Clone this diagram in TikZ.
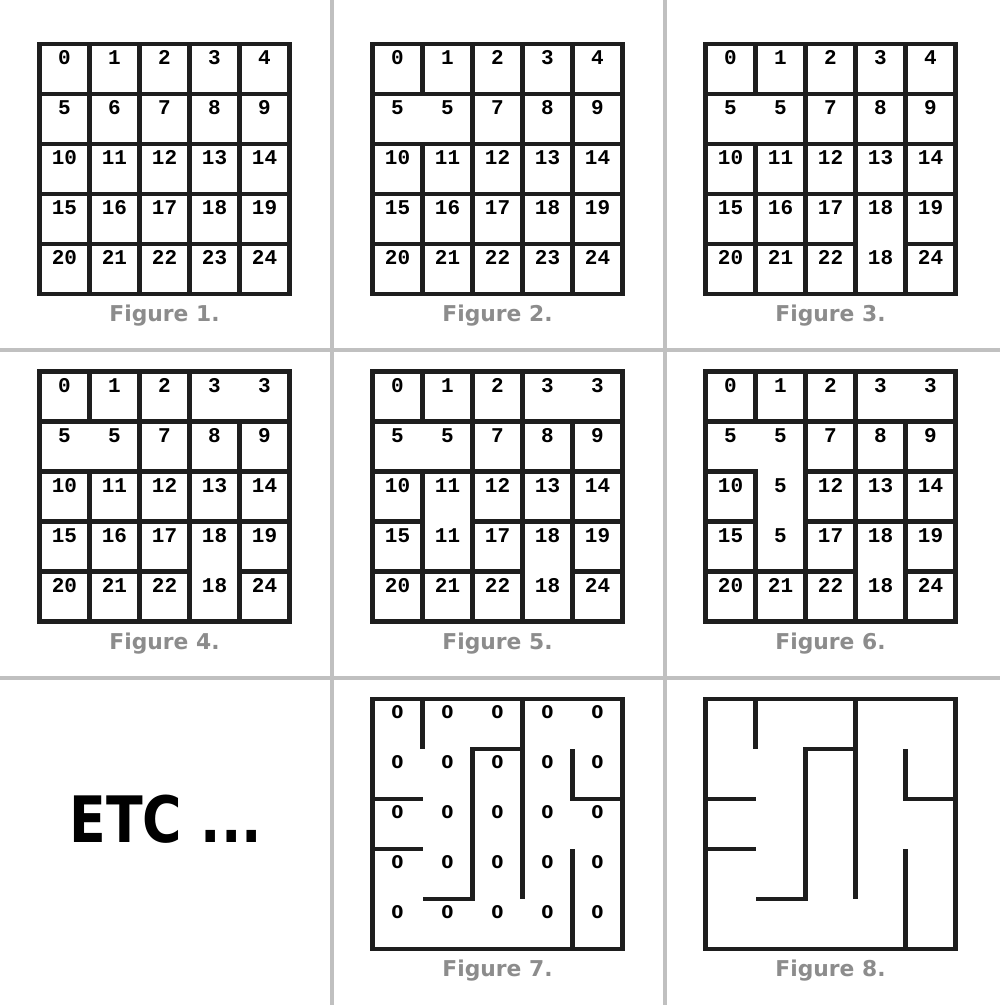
\documentclass[tikz,border=0pt]{standalone}
\usepackage{fontspec}
\usepackage{graphicx}
\newfontfamily\digitfont{Liberation Mono}
\newfontfamily\labelfont{DejaVu Sans}
\newfontfamily\zerofont{DejaVu Sans}
\definecolor{wallc}{RGB}{30,30,30}
\definecolor{sepc}{RGB}{192,192,192}
\definecolor{capc}{RGB}{140,140,140}
\newcommand\mgNums[2]{%
  \foreach \t [count=\i from 0] in {#2} {%
    \pgfmathtruncatemacro\rr{\i/5}%
    \pgfmathtruncatemacro\cc{\i-5*\rr}%
    \node[num] (#1-\i) at (\cc+0.5,\rr+0.42) {\t};}}
\newcommand\mgZeros[1]{%
  \foreach \i in {0,...,24} {%
    \pgfmathtruncatemacro\rr{\i/5}%
    \pgfmathtruncatemacro\cc{\i-5*\rr}%
    \node[zero] (#1-\i) at (\cc+0.5,\rr+0.38) {0};}}
\newcommand\mgWalls[1]{%
  \draw[wall] (0,0) rectangle (5,5);
  \foreach \a/\b/\c/\d in {#1} {\draw[wall] (\a,\b) -- (\c,\d);}}
\newcommand\mgMaze{%
  \draw[mazewall] (0,0) rectangle (5,5);
  \draw[mazewall] (1,0) -- (1,1);
  \draw[mazewall] (3,0) -- (3,4);
  \draw[mazewall] (3,1) -- (2,1) -- (2,4) -- (1,4);
  \draw[mazewall] (0,2) -- (1,2);
  \draw[mazewall] (0,3) -- (1,3);
  \draw[mazewall] (4,1) -- (4,2) -- (5,2);
  \draw[mazewall] (4,3) -- (4,5);}
\begin{document}
\begin{tikzpicture}[x=0.5pt,y=-0.5pt]
\tikzset{
  wall/.style={line width=2.1pt, draw=wallc, line cap=rect, line join=miter},
  mazewall/.style={line width=2.1pt, draw=wallc, line cap=butt, line join=miter},
  sep/.style={line width=2pt, draw=sepc},
  num/.style={anchor=base, inner sep=0pt, text=black, font=\digitfont\bfseries\fontsize{10.5pt}{10.5pt}\selectfont},
  zero/.style={anchor=base, inner sep=0pt, text=black, font=\zerofont\bfseries\fontsize{8.75pt}{8.75pt}\selectfont},
  figcap/.style={anchor=base, inner sep=0pt, text=capc, font=\labelfont\bfseries\fontsize{10.9pt}{10.9pt}\selectfont},
  etcstyle/.style={anchor=base west, inner sep=0pt, text=black, font=\labelfont\bfseries\fontsize{32pt}{32pt}\selectfont},
}
\fill[white] (0,0) rectangle (1000,1005);
\useasboundingbox (0,0) rectangle (1000,1005);
% separators
\draw[sep] (331.5,0) -- (331.5,1005);
\draw[sep] (664.5,0) -- (664.5,1005);
\draw[sep] (0,349.5) -- (1000,349.5);
\draw[sep] (0,677.5) -- (1000,677.5);
% Figure 1
\begin{scope}[shift={(39.5,44)}, x=25pt, y=-25pt]
  \mgWalls{1/0/1/5, 2/0/2/5, 3/0/3/5, 4/0/4/5, 0/1/5/1, 0/2/5/2, 0/3/5/3, 0/4/5/4}
  \mgNums{fa}{0,1,2,3,4,5,6,7,8,9,10,11,12,13,14,15,16,17,18,19,20,21,22,23,24}
  \node[figcap] (capa) at (2.5,5.55) {Figure 1.};
\end{scope}
% Figure 2
\begin{scope}[shift={(372.5,44)}, x=25pt, y=-25pt]
  \mgWalls{1/0/1/1, 1/2/1/5, 2/0/2/5, 3/0/3/5, 4/0/4/5, 0/1/5/1, 0/2/5/2, 0/3/5/3, 0/4/5/4}
  \mgNums{fb}{0,1,2,3,4,5,5,7,8,9,10,11,12,13,14,15,16,17,18,19,20,21,22,23,24}
  \node[figcap] (capb) at (2.5,5.55) {Figure 2.};
\end{scope}
% Figure 3
\begin{scope}[shift={(705.5,44)}, x=25pt, y=-25pt]
  \mgWalls{1/0/1/1, 1/2/1/5, 2/0/2/5, 3/0/3/5, 4/0/4/5, 0/1/5/1, 0/2/5/2, 0/3/5/3, 0/4/3/4, 4/4/5/4}
  \mgNums{fc}{0,1,2,3,4,5,5,7,8,9,10,11,12,13,14,15,16,17,18,19,20,21,22,18,24}
  \node[figcap] (capc) at (2.5,5.55) {Figure 3.};
\end{scope}
% Figure 4
\begin{scope}[shift={(39.5,371.5)}, x=25pt, y=-25pt]
  \mgWalls{1/0/1/1, 1/2/1/5, 2/0/2/5, 3/0/3/5, 4/1/4/5, 0/1/5/1, 0/2/5/2, 0/3/5/3, 0/4/3/4, 4/4/5/4}
  \mgNums{fd}{0,1,2,3,3,5,5,7,8,9,10,11,12,13,14,15,16,17,18,19,20,21,22,18,24}
  \node[figcap] (capd) at (2.5,5.55) {Figure 4.};
\end{scope}
% Figure 5
\begin{scope}[shift={(372.5,371.5)}, x=25pt, y=-25pt]
  \mgWalls{1/0/1/1, 1/2/1/5, 2/0/2/5, 3/0/3/5, 4/1/4/5, 0/1/5/1, 0/2/5/2, 0/3/1/3, 2/3/5/3, 0/4/3/4, 4/4/5/4}
  \mgNums{fe}{0,1,2,3,3,5,5,7,8,9,10,11,12,13,14,15,11,17,18,19,20,21,22,18,24}
  \node[figcap] (cape) at (2.5,5.55) {Figure 5.};
\end{scope}
% Figure 6
\begin{scope}[shift={(705.5,371.5)}, x=25pt, y=-25pt]
  \mgWalls{1/0/1/1, 1/2/1/5, 2/0/2/5, 3/0/3/5, 4/1/4/5, 0/1/5/1, 0/2/1/2, 2/2/5/2, 0/3/1/3, 2/3/5/3, 0/4/3/4, 4/4/5/4}
  \mgNums{ff}{0,1,2,3,3,5,5,7,8,9,10,5,12,13,14,15,5,17,18,19,20,21,22,18,24}
  \node[figcap] (capf) at (2.5,5.55) {Figure 6.};
\end{scope}
% ETC
\node[etcstyle] (etc) at (69,842) {\scalebox{0.84}[1]{ETC ...}};
% Figure 7
\begin{scope}[shift={(372.5,699)}, x=25pt, y=-25pt]
  \mgMaze
  \mgZeros{fg}
  \node[figcap] (capg) at (2.5,5.55) {Figure 7.};
\end{scope}
% Figure 8
\begin{scope}[shift={(705.5,699)}, x=25pt, y=-25pt]
  \mgMaze
  \node[figcap] (caph) at (2.5,5.55) {Figure 8.};
\end{scope}
\end{tikzpicture}
\end{document}
